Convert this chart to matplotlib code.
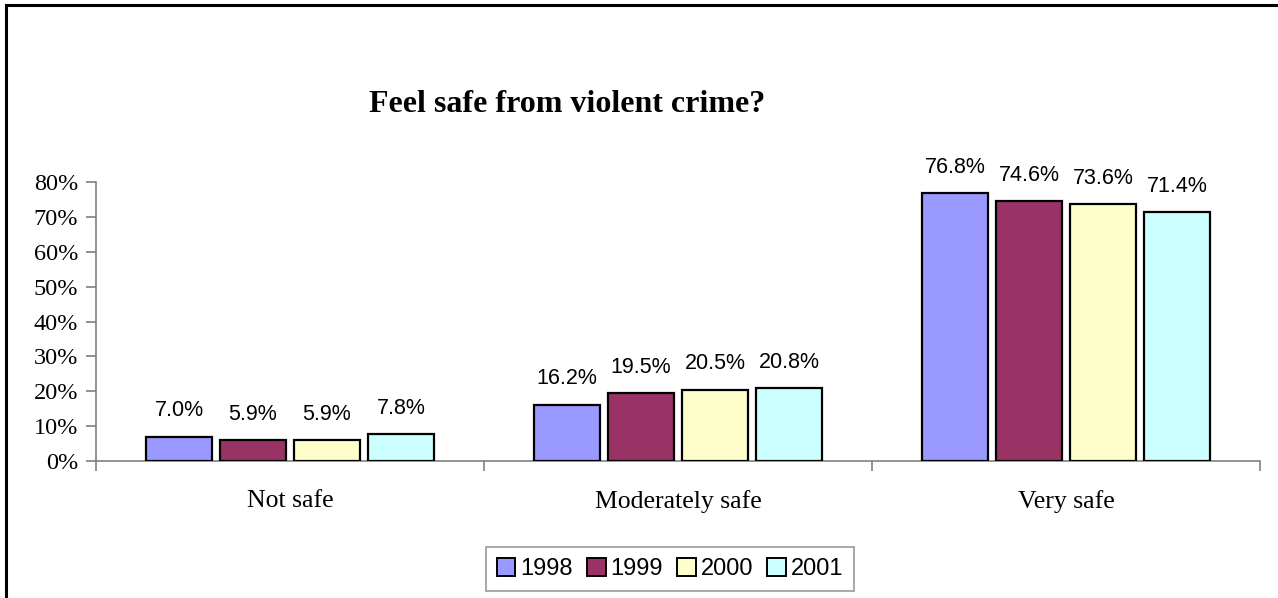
import numpy as np
import matplotlib
matplotlib.use("Agg")
import matplotlib.pyplot as plt
import matplotlib.patches as mpatches
from matplotlib.lines import Line2D

# survey responses, percent of respondents
categories = ["Not safe", "Moderately safe", "Very safe"]
years = ["1998", "1999", "2000", "2001"]
values_1998 = [7.0, 16.2, 76.8]
values_1999 = [5.9, 19.5, 74.6]
values_2000 = [5.9, 20.5, 73.6]
values_2001 = [7.8, 20.8, 71.4]
y_ticks = [0, 10, 20, 30, 40, 50, 60, 70, 80]

series = [values_1998, values_1999, values_2000, values_2001]
colors = ["#9999FF", "#993366", "#FFFFCC", "#CCFFFF"]

SERIF = "Liberation Serif"
SANS = "Liberation Sans"
AXIS_GRAY = "#808080"

W, H = 1278, 598
fig = plt.figure(figsize=(W / 100, H / 100), dpi=100)

# outer chart-area border (runs off the right and bottom edges)
fig.add_artist(Line2D([6 / W, 1.0], [1 - 5 / H, 1 - 5 / H], color="black",
                      linewidth=2.2, transform=fig.transFigure))
fig.add_artist(Line2D([6 / W, 6 / W], [1 - 5 / H, 0.0], color="black",
                      linewidth=2.2, transform=fig.transFigure))

left, right = 96 / W, 1260 / W
top, bottom = 1 - 182 / H, 1 - 461 / H
ax = fig.add_axes([left, bottom, right - left, top - bottom])

x = np.arange(len(categories)) + 0.5
bar_w = 66 / 388
step = 74 / 388
offsets = (np.arange(len(series)) - 1.5) * step

for vals, col, off, yr in zip(series, colors, offsets, years):
    bars = ax.bar(x + off, vals, width=bar_w, color=col, edgecolor="black",
                  linewidth=1.6, label=yr, zorder=3)
    for b, v in zip(bars, vals):
        ax.annotate(f"{v:.1f}%", (b.get_x() + b.get_width() / 2, v),
                    xytext=(0, 11), textcoords="offset points",
                    ha="center", va="bottom", fontsize=15.5, family=SANS)

ax.set_xlim(0, len(categories))
ax.set_ylim(0, 80)

ax.set_yticks(y_ticks)
ax.set_yticklabels([f"{t}%" for t in y_ticks], family=SERIF, fontsize=17.5)
ax.set_xticks(np.arange(len(categories) + 1))
ax.set_xticklabels([])
ax.set_xticks(x, minor=True)
ax.set_xticklabels(categories, minor=True, family=SERIF, fontsize=18.5)

ax.tick_params(axis="y", direction="out", length=7, width=1.2, color=AXIS_GRAY, pad=6)
ax.tick_params(axis="x", which="major", direction="out", length=7, width=1.2, color=AXIS_GRAY)
ax.tick_params(axis="x", which="minor", length=0, pad=21)

for side in ("top", "right"):
    ax.spines[side].set_visible(False)
for side in ("left", "bottom"):
    ax.spines[side].set_color(AXIS_GRAY)
    ax.spines[side].set_linewidth(1.2)

fig.text(567 / W, 1 - 105 / H, "Feel safe from violent crime?", ha="center",
         va="center", family=SERIF, fontweight="bold", fontsize=23)

handles = [mpatches.Patch(facecolor=c, edgecolor="black", linewidth=1.4, label=y)
           for c, y in zip(colors, years)]
leg = fig.legend(handles=handles, loc="center", bbox_to_anchor=(670 / W, 1 - 569 / H),
                 ncol=4, frameon=True, fancybox=False, edgecolor=AXIS_GRAY,
                 prop={"family": SANS, "size": 17}, handlelength=0.8,
                 handleheight=0.8, handletextpad=0.2, columnspacing=0.6,
                 borderpad=0.45, borderaxespad=0)
leg.get_frame().set_linewidth(1.2)

fig.savefig("out.png", dpi=100)
